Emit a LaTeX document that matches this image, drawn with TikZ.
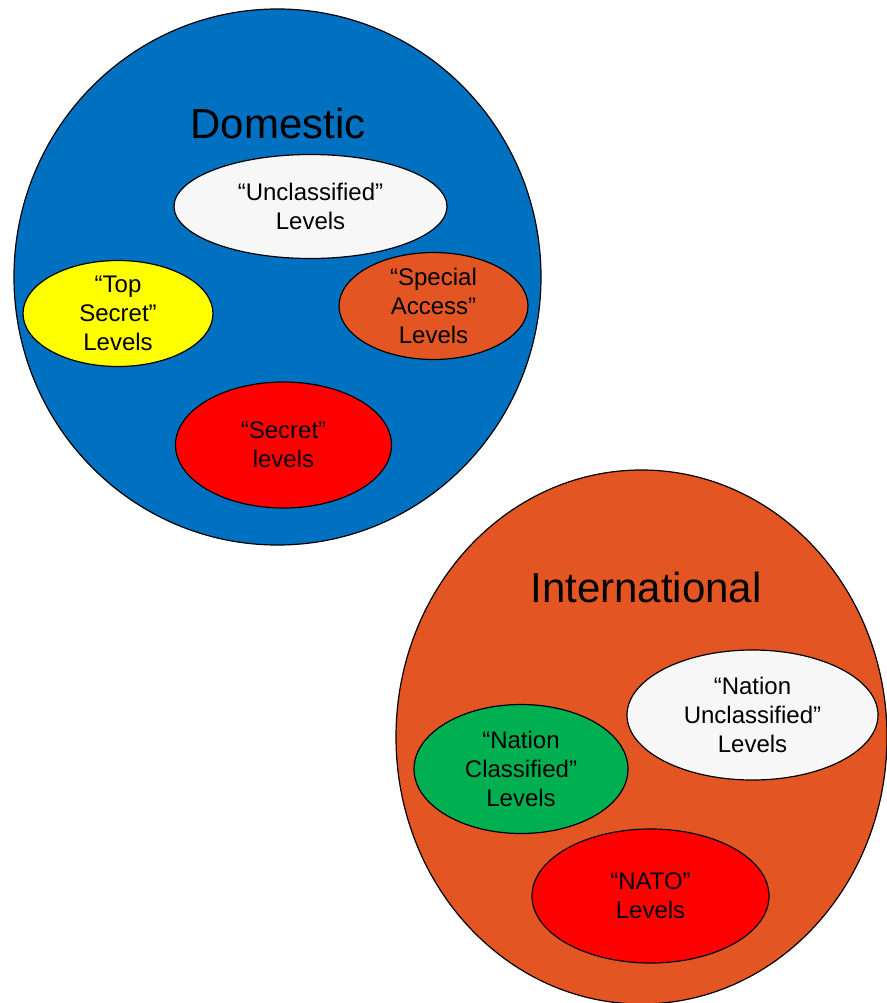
\documentclass[tikz,border=0pt]{standalone}
\usepackage{fontspec}
\setmainfont{Liberation Sans}
\usetikzlibrary{shapes.geometric}
\definecolor{domblue}{HTML}{0070C0}
\definecolor{intorange}{HTML}{E35624}
\definecolor{paleg}{HTML}{F7F7F7}
\definecolor{lvred}{HTML}{FF0000}
\definecolor{lvyellow}{HTML}{FFFF00}
\definecolor{lvgreen}{HTML}{00B050}
\begin{document}
\begin{tikzpicture}[x=1pt,y=-1pt,
  zone/.style={ellipse, draw=black, line width=1.2pt, inner sep=0pt},
  lvlbox/.style={ellipse, draw=black, line width=1.2pt, inner sep=0pt, align=center, font=\fontsize{24}{29}\selectfont},
  headline/.style={anchor=base, inner sep=0pt, font=\fontsize{42}{50}\selectfont}]
\useasboundingbox (0,0) rectangle (886,1003);
% Domestic
\node[zone, fill=domblue, minimum width=527pt, minimum height=536pt] (dom) at (277.5,277) {};
\node[headline] (domt) at (278,139) {Domestic};
\node[lvlbox, fill=paleg, minimum width=273pt, minimum height=104pt] (uncl) at (310.5,206.5) {“Unclassified”\\Levels};
\node[lvlbox, fill=lvyellow, minimum width=190pt, minimum height=106pt] (topsec) at (118,313.5) {“Top\\Secret”\\Levels};
\node[lvlbox, fill=intorange, minimum width=189pt, minimum height=97pt] (special) at (433.5,306) {“Special\\Access”\\Levels};
\node[lvlbox, fill=lvred, minimum width=216pt, minimum height=126pt] (secret) at (283.5,445) {“Secret”\\levels};
% International
\node[zone, fill=intorange, minimum width=491pt, minimum height=534pt] (intl) at (641.5,737) {};
\node[headline] (intlt) at (646,602) {International};
\node[lvlbox, fill=paleg, minimum width=251pt, minimum height=130pt] (nunc) at (752.5,715) {“Nation\\Unclassified”\\Levels};
\node[lvlbox, fill=lvgreen, minimum width=214pt, minimum height=129pt] (ncls) at (521,769) {“Nation\\Classified”\\Levels};
\node[lvlbox, fill=lvred, minimum width=237pt, minimum height=134pt] (nato) at (650.5,896) {“NATO”\\Levels};
\end{tikzpicture}
\end{document}
